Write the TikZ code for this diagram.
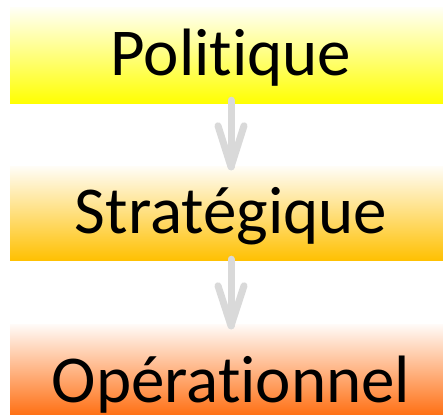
\documentclass[tikz,border=0pt]{standalone}
\usepackage{fontspec}
\setmainfont[Ligatures={NoCommon}]{Carlito}
\usetikzlibrary{calc}
\definecolor{polY}{RGB}{255,255,0}
\definecolor{strY}{RGB}{255,192,0}
\definecolor{opO}{RGB}{255,112,20}
\definecolor{arrG}{RGB}{217,217,217}
\tikzset{
  levelbox/.style={rectangle, draw=none, inner sep=0pt, minimum width=442pt,
    text height=50pt, text depth=10pt, font=\fontsize{67}{80}\selectfont,
    shading=axis, shading angle=0},
  arr/.style={draw=arrG, line width=7pt, line cap=round, line join=round}
}
\begin{document}
\begin{tikzpicture}[x=1pt,y=1pt]
\useasboundingbox (0,0) rectangle (443,414);
\node[levelbox, minimum height=96pt, top color=polY!4, bottom color=polY] (pol) at (231,358) {Politique};
\node[levelbox, minimum height=94pt, top color=strY!4, bottom color=strY] (str) at (231,200) {Stratégique};
\node[levelbox, minimum height=90pt, text height=70pt, text depth=5pt, top color=opO!4, bottom color=opO] (ope) at (231,44) {Opérationnel};
\coordinate (t1) at (str.north);
\coordinate (t2) at ([yshift=-1pt]ope.north);
\draw[arr] ([yshift=4pt]pol.south) -- (t1);
\draw[arr] ($(t1)+(-13,41)$) -- (t1) -- ($(t1)+(13,41)$);
\draw[arr] ([yshift=2pt]str.south) -- (t2);
\draw[arr] ($(t2)+(-13,40)$) -- (t2) -- ($(t2)+(13,40)$);
\end{tikzpicture}
\end{document}
